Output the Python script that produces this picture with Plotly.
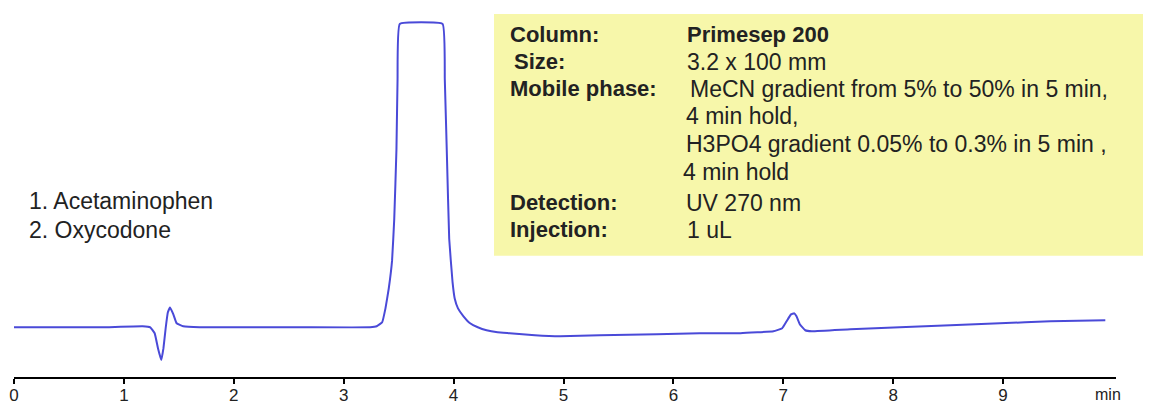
import plotly.graph_objects as go

# Chromatogram trace (time in min, detector signal in arbitrary units)
time_min = [0.00, 0.78, 1.17, 1.24, 1.28, 1.31, 1.34, 1.36, 1.38, 1.40, 1.42, 1.45, 1.48, 1.54,
            1.69, 2.60, 3.24, 3.30, 3.35, 3.38, 3.41, 3.44, 3.46, 3.48, 3.49, 3.51, 3.90, 3.92,
            3.94, 3.96, 3.99, 4.01, 4.04, 4.09, 4.15, 4.22, 4.30, 4.40, 4.51, 4.74, 4.97, 5.33,
            5.85, 6.24, 6.61, 6.91, 6.99, 7.03, 7.07, 7.10, 7.12, 7.15, 7.20, 7.26, 7.61, 8.06,
            8.52, 8.97, 9.43, 9.93]
signal = [50, 50, 51, 50, 44, 29, 17, 29, 49, 65, 70, 63, 54, 51,
          50, 50, 50, 51, 55, 69, 89, 117, 159, 229, 299, 355, 355, 299,
          219, 139, 96, 79, 69, 61, 54, 50, 47, 45, 44, 42, 41, 42,
          43, 44, 44, 46, 49, 56, 63, 64, 61, 53, 47, 46, 48, 50,
          52, 54, 56, 57]

tick_values = [0, 1, 2, 3, 4, 5, 6, 7, 8, 9]
tick_labels = ["0", "1", "2", "3", "4", "5", "6", "7", "8", "9"]

compounds = ["1. Acetaminophen", "2. Oxycodone"]
cond_labels = ["Column:", "Size:", "Mobile phase:", "", "", "", "Detection:", "Injection:"]
cond_values = ["Primesep 200", "3.2 x 100 mm", "MeCN gradient from 5% to 50% in 5 min,",
               "4 min hold,", "H3PO4 gradient 0.05% to 0.3% in 5 min ,", "4 min hold",
               "UV 270 nm", "1 uL"]

OFF = 8  # default page body margin
W, H = 1151 - OFF, 405 - OFF
AXIS_Y = 379  # page pixel of the x axis line
X0 = 14       # page pixel of t = 0
PX_PER_MIN = 109.9
L = X0 - OFF
T = 0
B = (405 - AXIS_Y)
PH = AXIS_Y - OFF
R = 35
PW = W - L - R


def px(xp):
    return (xp - X0) / PW


def py(yp):
    return (AXIS_Y - yp) / PH


fig = go.Figure()
fig.add_trace(go.Scatter(x=time_min, y=signal, mode="lines",
                         line=dict(color="#4a4ad8", width=2, shape="spline", smoothing=0.3),
                         hoverinfo="skip", showlegend=False))

FONT = "Liberation Sans, Arial, sans-serif"
FS = 23
annotations = []
for i, name in enumerate(compounds):
    annotations.append(dict(x=px(27), y=py(202 + i * 29), xref="paper", yref="paper",
                            text=name, showarrow=False, xanchor="left", yanchor="middle",
                            font=dict(family=FONT, size=23, color="#222222")))

row_y = [35, 62, 89, 117, 145, 173, 204, 231]
val_x = [685, 685, 688, 684, 684, 681, 684, 685]
lab_x = [508, 512, 508, 508, 508, 508, 508, 508]
for i in range(len(cond_labels)):
    if cond_labels[i]:
        annotations.append(dict(x=px(lab_x[i]), y=py(row_y[i]), xref="paper", yref="paper",
                                text="<b>" + cond_labels[i] + "</b>", showarrow=False,
                                xanchor="left", yanchor="middle",
                                font=dict(family=FONT, size=FS - 1, color="#222222")))
    txt = cond_values[i]
    if i == 0:
        txt = "<b>" + txt + "</b>"
    annotations.append(dict(x=px(val_x[i]), y=py(row_y[i]), xref="paper", yref="paper",
                            text=txt, showarrow=False, xanchor="left", yanchor="middle",
                            font=dict(family=FONT, size=FS - 1 if i == 0 else FS, color="#222222")))

annotations.append(dict(x=px(1108), y=py(397), xref="paper", yref="paper", text="min",
                        showarrow=False, xanchor="center", yanchor="middle",
                        font=dict(family=FONT, size=16, color="#222222")))

fig.update_layout(
    width=W, height=H,
    margin=dict(l=L, r=R, t=T, b=B, pad=0),
    paper_bgcolor="white", plot_bgcolor="white",
    shapes=[dict(type="rect", xref="paper", yref="paper",
                 x0=px(494), x1=px(1148), y0=py(257), y1=py(14),
                 fillcolor="#f7f7aa", line=dict(width=0), layer="below")],
    annotations=annotations,
    xaxis=dict(range=[0, PW / PX_PER_MIN], showgrid=False, zeroline=False,
               showline=True, linecolor="black", linewidth=1.5,
               ticks="outside", ticklen=5, tickwidth=1.5, tickcolor="black",
               tickvals=tick_values, ticktext=tick_labels, ticklabelstandoff=-3,
               tickfont=dict(family=FONT, size=17, color="#222222")),
    yaxis=dict(range=[0, PH], visible=False, showgrid=False, zeroline=False),
)

fig.write_html("out.html")
